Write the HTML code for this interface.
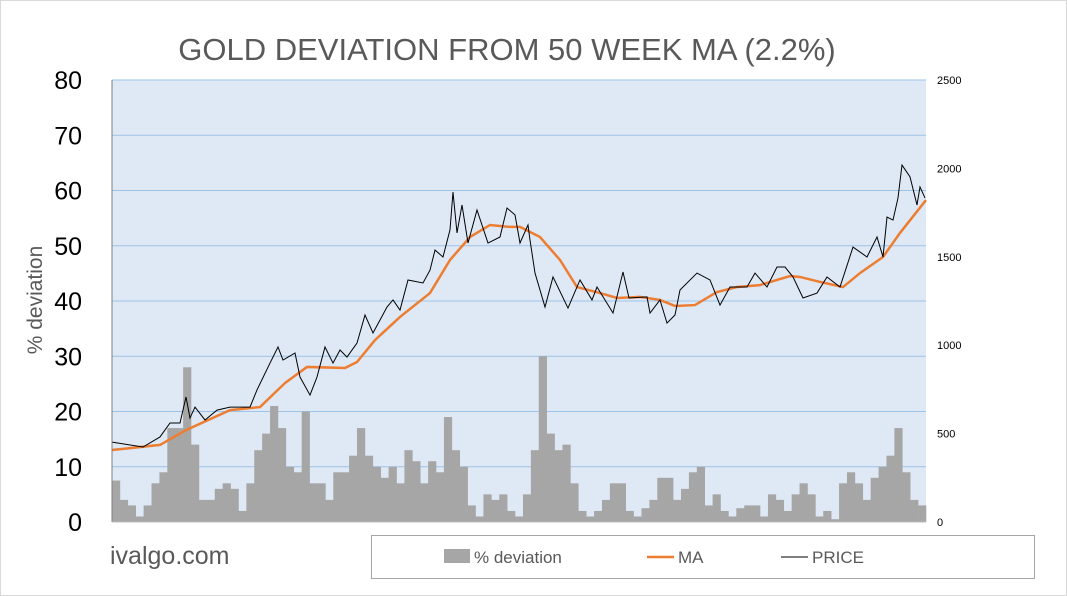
<!DOCTYPE html>
<html><head><meta charset="utf-8">
<style>
body{margin:0;background:#fff;}
svg{display:block;font-family:"Liberation Sans",sans-serif;}
</style></head>
<body>
<svg id="c" width="1067" height="596" viewBox="0 0 1067 596">
<rect x="0.5" y="0.5" width="1066" height="595" fill="#fff" stroke="#d9d9d9"/>
<text x="507" y="60" text-anchor="middle" font-size="31" fill="#595959">GOLD DEVIATION FROM 50 WEEK MA (2.2%)</text>
<rect x="112" y="80" width="814" height="442" fill="#dee9f5"/>
<g id="grid"></g>
<g id="bars"></g>
<g id="lines"></g>
<g id="axes"></g>
<text transform="translate(42,300) rotate(-90)" text-anchor="middle" font-size="21" fill="#595959">% deviation</text>
<text x="110" y="564" font-size="25" fill="#595959">ivalgo.com</text>
<g>
<rect x="371.5" y="535.5" width="663" height="43" fill="#fff" stroke="#a6a6a6"/>
<rect x="444" y="549" width="26" height="14" fill="#a6a6a6"/>
<text x="474" y="563" font-size="17" fill="#595959">% deviation</text>
<line x1="647" y1="557" x2="674" y2="557" stroke="#ed7d31" stroke-width="2.5"/>
<text x="678" y="563" font-size="17" fill="#595959">MA</text>
<line x1="781" y1="557" x2="808" y2="557" stroke="#000" stroke-width="1"/>
<text x="812" y="563" font-size="17" fill="#595959">PRICE</text>
</g>
</svg>
<script>
const leftTicks=[0,10,20,30,40,50,60,70,80];
const rightTicks=[0,500,1000,1500,2000,2500];
const deviation=[7.5,4,3,1,3,7,9,17,17,28,14,4,4,6,7,6,2,7,13,16,21,17,10,9,20,7,7,4,9,9,12,17,12,10,8,10,7,13,11,7,11,9,19,13,10,3,1,5,4,5,2,1,5,
13,30,16,13,14,7,2,1,2,4,7,7,2,1,2.5,4,8,8,4,6,9,10,3,5,2,1,2.5,3,3,1,5,4,2,5,7,5,1,2,0.5,7,9,7,4,8,10,12,17,9,4,3];
const priceWeek=[0,31,48,58,68,74,78,83,93,105,118,138,145,158,166,171,183,188,198,205,213,221,228,235,245,253,261,275,281,288,296,311,318,323,331,338,341,345,350,356,365,376,388,395,403,408,416,418,423,433,441,456,468,480,485,501,511,517,535,538,548,555,563,568,585,598,608,618,635,643,655,665,673,681,691,705,715,728,741,755,765,771,775,781,786,790,798,805,808,813];
const price=[452,424,481,560,560,707,588,650,577,633,650,650,747,899,990,916,956,820,718,820,990,899,973,933,1012,1171,1069,1216,1256,1199,1369,1352,1425,1538,1499,1652,1866,1635,1793,1578,1765,1578,1612,1776,1737,1578,1680,1595,1408,1216,1386,1210,1369,1256,1329,1182,1414,1267,1273,1182,1256,1125,1171,1312,1408,1369,1227,1329,1329,1408,1329,1442,1442,1386,1267,1295,1386,1329,1555,1499,1612,1499,1725,1708,1833,2019,1952,1793,1895,1833];
const maWeek=[0,48,74,118,148,173,195,233,245,263,288,318,338,358,378,398,408,428,448,465,488,505,528,548,563,583,605,625,648,678,688,708,731,748,771,788,814];
const ma=[407,436,520,633,650,786,877,871,905,1029,1160,1295,1482,1612,1680,1669,1669,1612,1482,1329,1295,1267,1273,1256,1222,1227,1301,1329,1340,1391,1386,1358,1329,1408,1499,1635,1821];

const X0=112,X1=926,Y0=522,Y1=80,NS='http://www.w3.org/2000/svg';
const yL=v=>Y0-(v/80)*(Y0-Y1);
const yR=v=>Y0-(v/2500)*(Y0-Y1);
const xW=w=>X0+(w/814)*(X1-X0);
function mk(tag,attrs,parent){const e=document.createElementNS(NS,tag);for(const k in attrs)e.setAttribute(k,attrs[k]);document.getElementById(parent).appendChild(e);return e;}

leftTicks.forEach(t=>{
  if(t>0){const g=mk('line',{x1:X0,x2:X1,y1:yL(t),y2:yL(t),stroke:'#9dc3e6','stroke-width':1},'grid');
  
  }
  const l=mk('text',{x:82,y:yL(t)+9,'text-anchor':'end','font-size':25,fill:'#000'},'axes');
  l.textContent=t;
  
  
});
rightTicks.forEach(t=>{
  const l=mk('text',{x:937,y:yR(t)+4,'font-size':11,fill:'#000'},'axes');
  l.textContent=t;
  
  
});
const bw=(X1-X0)/deviation.length;
deviation.forEach((v,i)=>{
  const b=mk('rect',{x:X0+i*bw,y:yL(v),width:bw+0.3,height:Y0-yL(v),fill:'#a6a6a6'},'bars');
  
  
});
const maP=mk('polyline',{points:ma.map((v,i)=>xW(maWeek[i])+','+yR(v)).join(' '),fill:'none',stroke:'#ed7d31','stroke-width':2.5},'lines');


const pP=mk('polyline',{points:price.map((v,i)=>xW(priceWeek[i])+','+yR(v)).join(' '),fill:'none',stroke:'#000','stroke-width':1},'lines');


const ax=mk('line',{x1:X0,x2:X0,y1:Y1,y2:Y0,stroke:'#808080'},'axes');


const bx=mk('line',{x1:X0,x2:X1,y1:Y0,y2:Y0,stroke:'#bfbfbf'},'axes');


</script>
</body></html>
